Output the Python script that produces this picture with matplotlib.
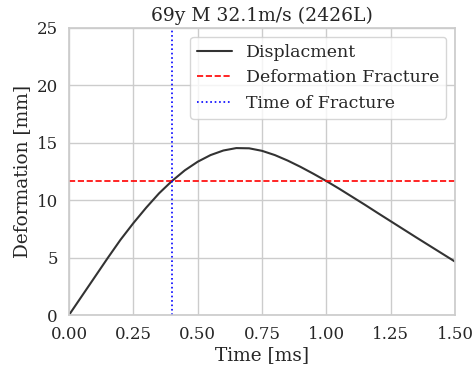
import matplotlib
matplotlib.use("Agg")
import matplotlib.pyplot as plt
import seaborn as sns

time_ms = [0.00, 0.05, 0.10, 0.15, 0.20, 0.25, 0.30, 0.35, 0.40, 0.45,
           0.50, 0.55, 0.60, 0.65, 0.70, 0.75, 0.80, 0.85, 0.90, 0.95,
           1.00, 1.05, 1.10, 1.15, 1.20, 1.25, 1.30, 1.35, 1.40, 1.45, 1.50]
deformation = [0.0, 1.65, 3.3, 4.95, 6.55, 8.0, 9.35, 10.6, 11.67, 12.6,
               13.35, 13.93, 14.33, 14.54, 14.52, 14.3, 13.93, 13.45, 12.9, 12.3,
               11.67, 11.0, 10.3, 9.6, 8.88, 8.17, 7.46, 6.75, 6.05, 5.35, 4.65]
fracture_deformation = 11.67
fracture_time = 0.40
title = "69y M 32.1m/s (2426L)"

sns.set_theme(style="whitegrid")
plt.rcParams['font.family'] = ['DejaVu Serif']

fig = plt.figure(figsize=(4.74, 3.76), dpi=100)
ax = fig.add_axes([69/474, 1-315/376, (455-69)/474, (315-28)/376])

ax.plot(time_ms, deformation, color='#333333', lw=1.5, label='Displacment')
ax.axhline(fracture_deformation, color='red', ls='--', lw=1.2, label='Deformation Fracture')
ax.axvline(fracture_time, color='blue', ls=':', lw=1.2, label='Time of Fracture')

ax.set_xlim(0, 1.5)
ax.set_ylim(0, 25)
ax.set_xticks([0, 0.25, 0.5, 0.75, 1.0, 1.25, 1.5])
ax.set_xticklabels(['0.00', '0.25', '0.50', '0.75', '1.00', '1.25', '1.50'])
ax.set_yticks([0, 5, 10, 15, 20, 25])
ax.tick_params(labelsize=12, pad=2)
ax.set_xlabel('Time [ms]', fontsize=13.3, labelpad=2)
ax.set_ylabel('Deformation [mm]', fontsize=13.3, labelpad=4)
ax.set_title(title, fontsize=13.5, pad=5)
ax.legend(loc='upper right', fontsize=12.5)

fig.savefig('out.png', dpi=100)
